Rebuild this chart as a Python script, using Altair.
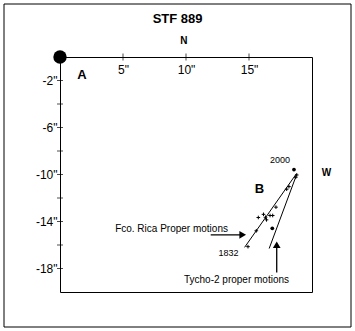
import altair as alt
import pandas as pd

# measured positions (arc-seconds)
pm_x = [18.79, 18.71, 18.17, 17.99, 17.14, 16.67, 16.88, 16.15, 16.31, 16.39, 15.74, 15.58, 14.92]
pm_y = [-10.04, -10.24, -11.03, -11.25, -12.78, -13.49, -13.49, -13.39, -13.64, -13.86, -13.66, -14.79, -16.14]
dot_x = [18.57, 16.85]
dot_y = [-9.58, -14.58]
star_a_x = [0]
star_a_y = [0]

line_names = ["Fco. Rica", "Tycho-2"]
line_x1 = [18.75, 18.8]
line_y1 = [-9.95, -9.95]
line_x2 = [14.65, 16.6]
line_y2 = [-16.2, -16.3]

arrow_x1 = [11.96, 17.2]
arrow_y1 = [-15.13, -18.35]
arrow_x2 = [14.5, 17.2]
arrow_y2 = [-15.13, -15.98]
arrow_shapes = ["triangle-right", "triangle-up"]

x_ticks = [5, 10, 15]
y_ticks = [-2, -4, -6, -8, -10, -12, -14, -16, -18]
y_labels = [-2, -6, -10, -14, -18]

bold_text = ["STF 889", "N", "A", "B", "W"]
bold_x = [9.33, 9.84, 1.75, 15.83, 21.15]
bold_y = [3.26, 1.40, -1.57, -11.23, -9.87]
bold_size = [13, 10, 13, 13, 10]

year_text = ["2000", "1832"]
year_x = [17.46, 13.37]
year_y = [-8.77, -16.65]

lab_text = ["Fco. Rica Proper motions", "Tycho-2 proper motions"]
lab_x = [13.33, 14.01]
lab_y = [-14.6, -18.94]
lab_align = ["right", "center"]

FONT = "Liberation Sans"

xs = alt.Scale(domain=[0, 20], nice=False)
ys = alt.Scale(domain=[-20, 0], nice=False)

pm_df = pd.DataFrame({"x": pm_x, "y": pm_y})
dot_df = pd.DataFrame({"x": dot_x, "y": dot_y})
a_df = pd.DataFrame({"x": star_a_x, "y": star_a_y})
lines_df = pd.DataFrame({"name": line_names, "x": line_x1, "y": line_y1, "x2": line_x2, "y2": line_y2})
arrows_df = pd.DataFrame({"x": arrow_x1, "y": arrow_y1, "x2": arrow_x2, "y2": arrow_y2, "shape": arrow_shapes})
xt_df = pd.DataFrame({"x": x_ticks, "y": [0] * len(x_ticks)})
yt_df = pd.DataFrame({"x": [0] * len(y_ticks), "y": y_ticks})
bold_df = pd.DataFrame({"t": bold_text, "x": bold_x, "y": bold_y, "s": bold_size})
year_df = pd.DataFrame({"t": year_text, "x": year_x, "y": year_y})
lab_df = pd.DataFrame({"t": lab_text, "x": lab_x, "y": lab_y, "a": lab_align})

x_axis = alt.Axis(orient="top", values=x_ticks, labelExpr="datum.value + '\"'", ticks=False, tickSize=0,
                  domain=False, grid=False, title=None, labelPadding=-12, labelBaseline="middle",
                  labelFont=FONT, labelFontSize=12, labelColor="black")
y_axis = alt.Axis(orient="left", values=y_labels, labelExpr="datum.value + '\"'", ticks=False, tickSize=0,
                  domain=False, grid=False, title=None, labelPadding=3,
                  labelFont=FONT, labelFontSize=12, labelColor="black")

frame = alt.Chart(pd.DataFrame({"k": [0]})).mark_rect(fill=None, stroke="black", strokeWidth=1).encode(
    x=alt.value(-56), x2=alt.value(291), y=alt.value(-53), y2=alt.value(270))

base_pts = alt.Chart(pm_df).mark_point(shape="M-1,0H1M0,-1V1", size=13, filled=False,
                                       stroke="black", strokeWidth=1, opacity=1).encode(
    x=alt.X("x:Q", scale=xs, axis=x_axis), y=alt.Y("y:Q", scale=ys, axis=y_axis))

dots = alt.Chart(dot_df).mark_circle(size=14, color="black", opacity=1).encode(
    x=alt.X("x:Q", scale=xs), y=alt.Y("y:Q", scale=ys))

star_a = alt.Chart(a_df).mark_circle(size=180, color="black", opacity=1).encode(
    x=alt.X("x:Q", scale=xs), y=alt.Y("y:Q", scale=ys))

pm_lines = alt.Chart(lines_df).mark_rule(color="black", strokeWidth=1).encode(
    x=alt.X("x:Q", scale=xs), y=alt.Y("y:Q", scale=ys), x2="x2:Q", y2="y2:Q")

arrow_shafts = alt.Chart(arrows_df).mark_rule(color="black", strokeWidth=1.3).encode(
    x=alt.X("x:Q", scale=xs), y=alt.Y("y:Q", scale=ys), x2="x2:Q", y2="y2:Q")

arrow_heads = alt.Chart(arrows_df).mark_point(filled=True, color="black", size=60, opacity=1).encode(
    x=alt.X("x2:Q", scale=xs), y=alt.Y("y2:Q", scale=ys),
    shape=alt.Shape("shape:N", scale=None, legend=None))

xticks = alt.Chart(xt_df).mark_tick(orient="vertical", size=7, thickness=1, color="black").encode(
    x=alt.X("x:Q", scale=xs), y=alt.Y("y:Q", scale=ys))
yticks = alt.Chart(yt_df).mark_tick(orient="horizontal", size=6, thickness=1, color="black").encode(
    x=alt.X("x:Q", scale=xs), y=alt.Y("y:Q", scale=ys))

bold_ann = alt.Chart(bold_df).mark_text(font=FONT, color="black", baseline="middle", fontWeight="bold").encode(
    x=alt.X("x:Q", scale=xs), y=alt.Y("y:Q", scale=ys), text="t:N",
    size=alt.Size("s:Q", scale=None, legend=None))

year_ann = alt.Chart(year_df).mark_text(font=FONT, color="black", baseline="middle", fontSize=9).encode(
    x=alt.X("x:Q", scale=xs), y=alt.Y("y:Q", scale=ys), text="t:N")

labs_r = alt.Chart(lab_df[lab_df["a"] == "right"]).mark_text(font=FONT, fontSize=10, color="black",
                                                             align="right", baseline="middle").encode(
    x=alt.X("x:Q", scale=xs), y=alt.Y("y:Q", scale=ys), text="t:N")
labs_c = alt.Chart(lab_df[lab_df["a"] == "center"]).mark_text(font=FONT, fontSize=10, color="black",
                                                              align="center", baseline="middle").encode(
    x=alt.X("x:Q", scale=xs), y=alt.Y("y:Q", scale=ys), text="t:N")

chart = alt.layer(base_pts, frame, pm_lines, dots, star_a, arrow_shafts, arrow_heads,
                  xticks, yticks, bold_ann, year_ann, labs_r, labs_c).properties(
    width=252, height=235, autosize=alt.AutoSizeParams(type="none"),
    padding={"left": 60, "top": 57, "right": 43, "bottom": 39},
    background="white"
).configure_view(stroke="black", strokeWidth=1)

chart.save("out.html", embed_options={"renderer": "svg", "actions": False})
